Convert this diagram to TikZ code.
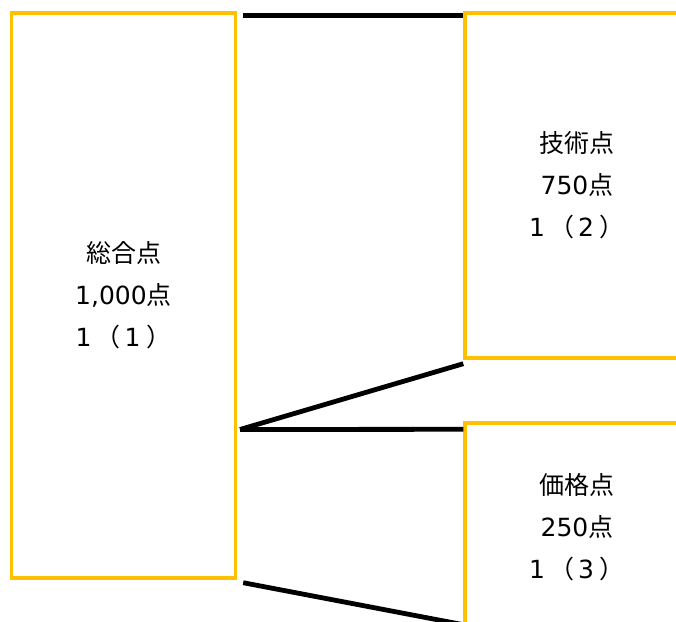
\documentclass[tikz,border=0pt]{standalone}
\usepackage{fontspec}
\setmainfont{DejaVu Sans}
\newfontfamily\cjkfont{Noto Sans CJK JP}
\newcommand{\ja}[1]{{\cjkfont #1}}
\newcommand{\rank}[1]{1\hspace{2pt}\ja{（}\hspace{2pt}#1\hspace{3pt}\ja{）}}
\usepackage{tikz}
\usetikzlibrary{arrows}
\usetikzlibrary{shapes}
\definecolor{boxorange}{RGB}{255,192,0}

\begin{document}
\begin{tikzpicture}[x=0.5pt, y=-0.5pt]
                \tikzstyle{format} = [draw=boxorange, line width=1.7pt, rectangle, inner sep=0pt, minimum width=112pt, align=center, font=\fontsize{12.5}{21}\selectfont]
                \tikzstyle{link} = [-, line width=2.4pt, black]
                \useasboundingbox (0,0) rectangle (676,622);
                        \begin{scope}
                                \path[link]
                                node[format, minimum height=282.5pt] (total) at (123.5,295.5) {\ja{総合点}\\1,000\ja{点}\\\rank{1}}
                                node[format, minimum height=172.5pt] (tech) at (577,185.5) {\ja{技術点}\\750\ja{点}\\\rank{2}}
                                node[format, minimum height=104pt] (price) at (577,527) {\ja{価格点}\\250\ja{点}\\\rank{3}}
                                coordinate (fork) at (240,429.5)

                                % Lines from the total box
                                ([xshift=3pt, yshift=-2pt]total.north east) edge ([yshift=-2pt]tech.north west)
                                (fork) edge ([yshift=-2pt]tech.south west)
                                (fork) edge ([yshift=-4pt]price.north west)
                                ([xshift=3pt, yshift=-1.5pt]total.south east) edge ([yshift=4pt]price.south west)
                                ;
                        \end{scope}
                \end{tikzpicture}
\end{document}
